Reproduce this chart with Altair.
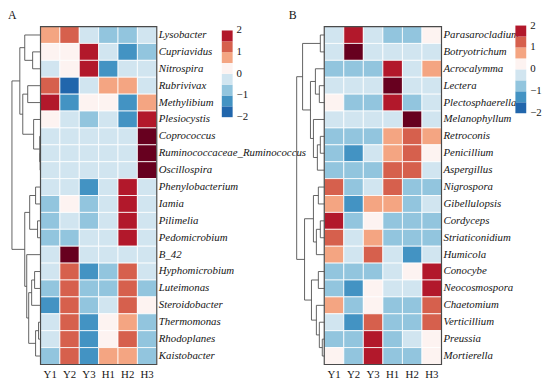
import altair as alt
import pandas as pd

# ---------------- data ----------------
samples = ["Y1", "Y2", "Y3", "H1", "H2", "H3"]

genera_a = ["Lysobacter", "Cupriavidus", "Nitrospira", "Rubrivivax", "Methylibium",
            "Plesiocystis", "Coprococcus", "Ruminococcaceae_Ruminococcus", "Oscillospira",
            "Phenylobacterium", "Iamia", "Pilimelia", "Pedomicrobium", "B_42",
            "Hyphomicrobium", "Luteimonas", "Steroidobacter", "Thermomonas",
            "Rhodoplanes", "Kaistobacter"]
values_a = [
    [0.8, 1.3, -0.2, -0.7, -0.7, -0.2],
    [0.2, 0.2, 1.8, -0.2, -1.2, -0.7],
    [-0.2, 0.2, 1.8, -1.2, -0.2, -0.2],
    [1.3, -1.8, -0.2, 0.8, 0.8, -0.2],
    [1.8, -1.2, 0.2, 0.2, -1.2, 0.8],
    [0.2, -0.2, -0.7, -0.2, -1.2, 1.8],
    [-0.4, -0.4, -0.4, -0.4, -0.4, 2.6],
    [-0.4, -0.4, -0.4, -0.4, -0.4, 2.6],
    [-0.4, -0.4, -0.4, -0.4, -0.4, 2.6],
    [-0.2, -0.2, -1.2, -0.2, 1.9, -0.2],
    [-0.7, 0.1, -0.7, -0.3, 1.9, -0.3],
    [-0.7, -0.3, -0.7, -0.3, 1.9, -0.3],
    [-0.7, -0.6, -0.3, -0.3, 1.9, -0.3],
    [-0.4, 2.6, -0.4, -0.4, -0.4, -0.4],
    [-0.2, 1.3, -1.2, -0.7, 1.3, -0.2],
    [-0.7, 1.3, -0.7, -0.7, 1.3, -0.7],
    [-1.2, 1.3, -0.7, -0.2, 1.3, 0.1],
    [-0.2, 1.3, -1.2, 0.1, 0.9, -0.7],
    [-0.2, 1.3, -1.2, 0.1, 1.3, -0.7],
    [-0.7, 1.3, -1.2, 0.8, 0.9, -0.7],
]

genera_b = ["Parasarocladium", "Botryotrichum", "Acrocalymma", "Lectera",
            "Plectosphaerella", "Melanophyllum", "Retroconis", "Penicillium",
            "Aspergillus", "Nigrospora", "Gibellulopsis", "Cordyceps",
            "Striaticonidium", "Humicola", "Conocybe", "Neocosmospora",
            "Chaetomium", "Verticillium", "Preussia", "Mortierella"]
values_b = [
    [-0.2, 1.8, -0.2, -0.7, -0.7, 0.1],
    [-0.4, 2.6, -0.4, -0.4, -0.4, -0.4],
    [-0.7, -0.7, -0.7, 1.8, -0.2, 0.8],
    [-0.4, -0.4, -0.4, 2.6, -0.4, -0.4],
    [0.1, -0.7, -0.7, 1.8, -0.7, -0.2],
    [-0.4, -0.4, -0.4, -0.4, 2.6, -0.4],
    [-0.7, -0.7, -0.7, 0.8, 1.3, 0.8],
    [-0.7, -1.2, -0.2, 0.8, 1.3, 0.1],
    [-0.7, -0.7, -0.7, 1.3, 1.3, -0.2],
    [1.3, -0.7, -0.2, 1.3, -0.7, -0.7],
    [0.8, -1.2, 0.8, 0.8, -0.7, -0.2],
    [1.8, -0.7, 0.1, -0.7, -0.7, -0.7],
    [1.3, -0.2, 0.8, -0.7, -0.7, -0.7],
    [0.8, -0.2, 1.3, -0.2, -1.2, -0.2],
    [-0.7, -0.7, -0.7, -0.2, 0.1, 1.8],
    [-0.7, -1.2, 0.1, -0.2, -0.2, 1.8],
    [0.8, -0.7, 0.1, -0.7, -0.7, 1.3],
    [-0.2, -1.2, 1.3, -0.7, -0.7, 1.3],
    [-0.7, -0.7, 1.8, -0.7, -0.2, 0.1],
    [0.1, -0.7, 1.8, -0.7, -0.7, 0.1],
]

# dendrogram merges: (child1, child2, height); leaves 0..19, clusters 20+
merges_a = [(1, 2, 8), (0, 20, 16), (3, 4, 13), (7, 8, 0.4), (6, 23, 0.8),
            (5, 24, 7), (22, 25, 18), (21, 26, 21), (9, 10, 5), (11, 12, 3),
            (28, 29, 11), (14, 15, 6), (31, 16, 9), (17, 18, 2), (33, 19, 5),
            (32, 34, 12), (13, 35, 14), (30, 36, 16), (27, 37, 29)]
merges_b = [(0, 1, 4), (3, 4, 5), (2, 21, 9), (6, 7, 4), (23, 8, 7),
            (5, 24, 11), (22, 25, 14), (20, 26, 22), (9, 10, 6), (11, 12, 4),
            (29, 13, 8), (28, 30, 11), (14, 15, 6), (18, 19, 2), (17, 33, 5),
            (16, 34, 8), (32, 35, 13), (31, 36, 20), (27, 37, 28)]

legend_ticks = [2, 1, 0, -1, -2]
legend_labels = ["2", "1", "0", "\u22121", "\u22122"]

# ---------------- style ----------------
thresholds = [-1.5, -1.0, -0.5, 0.0, 0.5, 1.0, 1.5, 2.2]
colors = ["#2166AC", "#4393C3", "#92C5DE", "#D1E5F0", "#FDF3F1",
          "#F4A582", "#D6604D", "#B2182B", "#67001F"]
legend_lo = [-2, -1.5, -1, -0.5, 0, 0.5, 1, 1.5]
legend_colors = colors[:8]

W, H = 542, 376
SERIF = "Liberation Serif"
TXT = "#151515"


def long_df(genera, values):
    rows = []
    for g, vals in zip(genera, values):
        for s, v in zip(samples, vals):
            rows.append({"genus": g, "sample": s, "value": v})
    return pd.DataFrame(rows)


def dendro_df(merges, n):
    pos = {i: float(i) for i in range(n)}
    hgt = {i: 0.0 for i in range(n)}
    segs = []
    for k, (a, b, h) in enumerate(merges):
        for c in (a, b):
            segs.append({"x": hgt[c], "x2": h, "y": pos[c], "y2": pos[c]})
        segs.append({"x": h, "x2": h, "y": pos[a], "y2": pos[b]})
        nid = n + k
        pos[nid] = (pos[a] + pos[b]) / 2
        hgt[nid] = h
    return pd.DataFrame(segs)


def panel(genera, values, merges, L, letter):
    n = len(genera)
    yband = alt.Scale(range=[L["top"], L["bot"]], paddingInner=0, paddingOuter=0)
    xband = alt.Scale(range=[L["x0"], L["x1"]], paddingInner=0, paddingOuter=0)
    df = long_df(genera, values)
    heat = alt.Chart(df).mark_rect(stroke="white", strokeWidth=0.8).encode(
        x=alt.X("sample:N", sort=samples, scale=xband, axis=None),
        y=alt.Y("genus:N", sort=genera, scale=yband, axis=None),
        color=alt.Color("value:Q", scale=alt.Scale(type="threshold", domain=thresholds,
                                                   range=colors), legend=None),
    )
    frame = alt.Chart(pd.DataFrame({"k": [0]})).mark_rect(
        filled=False, stroke="#4a4a4a", strokeWidth=1.2).encode(
        x=alt.value(L["x0"]), x2=alt.value(L["x1"]),
        y=alt.value(L["top"]), y2=alt.value(L["bot"]))
    rowlab = alt.Chart(pd.DataFrame({"genus": genera})).mark_text(
        align="left", baseline="middle", font=SERIF, fontStyle="italic",
        fontSize=11, color=TXT).encode(
        y=alt.Y("genus:N", sort=genera, scale=yband, axis=None),
        x=alt.value(L["x1"] + 2), text="genus:N")
    collab = alt.Chart(pd.DataFrame({"sample": samples})).mark_text(
        align="center", baseline="middle", font=SERIF, fontSize=11, color=TXT).encode(
        x=alt.X("sample:N", sort=samples, scale=xband, axis=None),
        y=alt.value(L["bot"] + 11), text="sample:N")
    dd = dendro_df(merges, n)
    dend = alt.Chart(dd).mark_rule(color="#505050", strokeWidth=0.9).encode(
        x=alt.X("x:Q", scale=alt.Scale(domain=[0, 30], range=[L["x0"], L["x0"] - 30],
                                       nice=False, zero=False), axis=None),
        x2="x2:Q",
        y=alt.Y("y:Q", scale=alt.Scale(domain=[-0.5, n - 0.5], range=[L["top"], L["bot"]],
                                       nice=False, zero=False), axis=None),
        y2="y2:Q",
    )
    lscale = alt.Scale(domain=[-2, 2], range=[L["lbot"], L["ltop"]], nice=False, zero=False)
    ldf = pd.DataFrame({"lo": legend_lo, "hi": [v + 0.5 for v in legend_lo],
                        "c": legend_colors})
    leg = alt.Chart(ldf).mark_rect().encode(
        y=alt.Y("lo:Q", scale=lscale, axis=None), y2="hi:Q",
        x=alt.value(L["lx"]), x2=alt.value(L["lx"] + 11),
        color=alt.Color("c:N", scale=None, legend=None))
    legtxt = alt.Chart(pd.DataFrame({"v": legend_ticks, "t": legend_labels})).mark_text(
        align="left", baseline="middle", font=SERIF, fontSize=11, color=TXT).encode(
        y=alt.Y("v:Q", scale=lscale, axis=None),
        x=alt.value(L["lx"] + 15), text="t:N")
    title = alt.Chart(pd.DataFrame({"t": [letter]})).mark_text(
        align="left", baseline="alphabetic", font=SERIF, fontSize=12, color=TXT).encode(
        x=alt.value(L["tx"]), y=alt.value(8), text="t:N")
    return [heat, frame, rowlab, collab, dend, leg, legtxt, title]


LA = dict(x0=33, x1=151, top=16, bot=359, lx=217, ltop=20, lbot=108, tx=0)
LB = dict(x0=321, x1=440, top=16, bot=359, lx=515, ltop=15, lbot=104, tx=285)

layers = panel(genera_a, values_a, merges_a, LA, "A") + panel(genera_b, values_b, merges_b, LB, "B")

chart = alt.layer(*layers).resolve_scale(
    x="independent", y="independent", color="independent"
).properties(
    width=W, height=H, autosize=alt.AutoSizeParams(type="none"), padding=0
).configure_view(stroke=None)

chart.save("out.html", embed_options={"renderer": "svg", "actions": False})
